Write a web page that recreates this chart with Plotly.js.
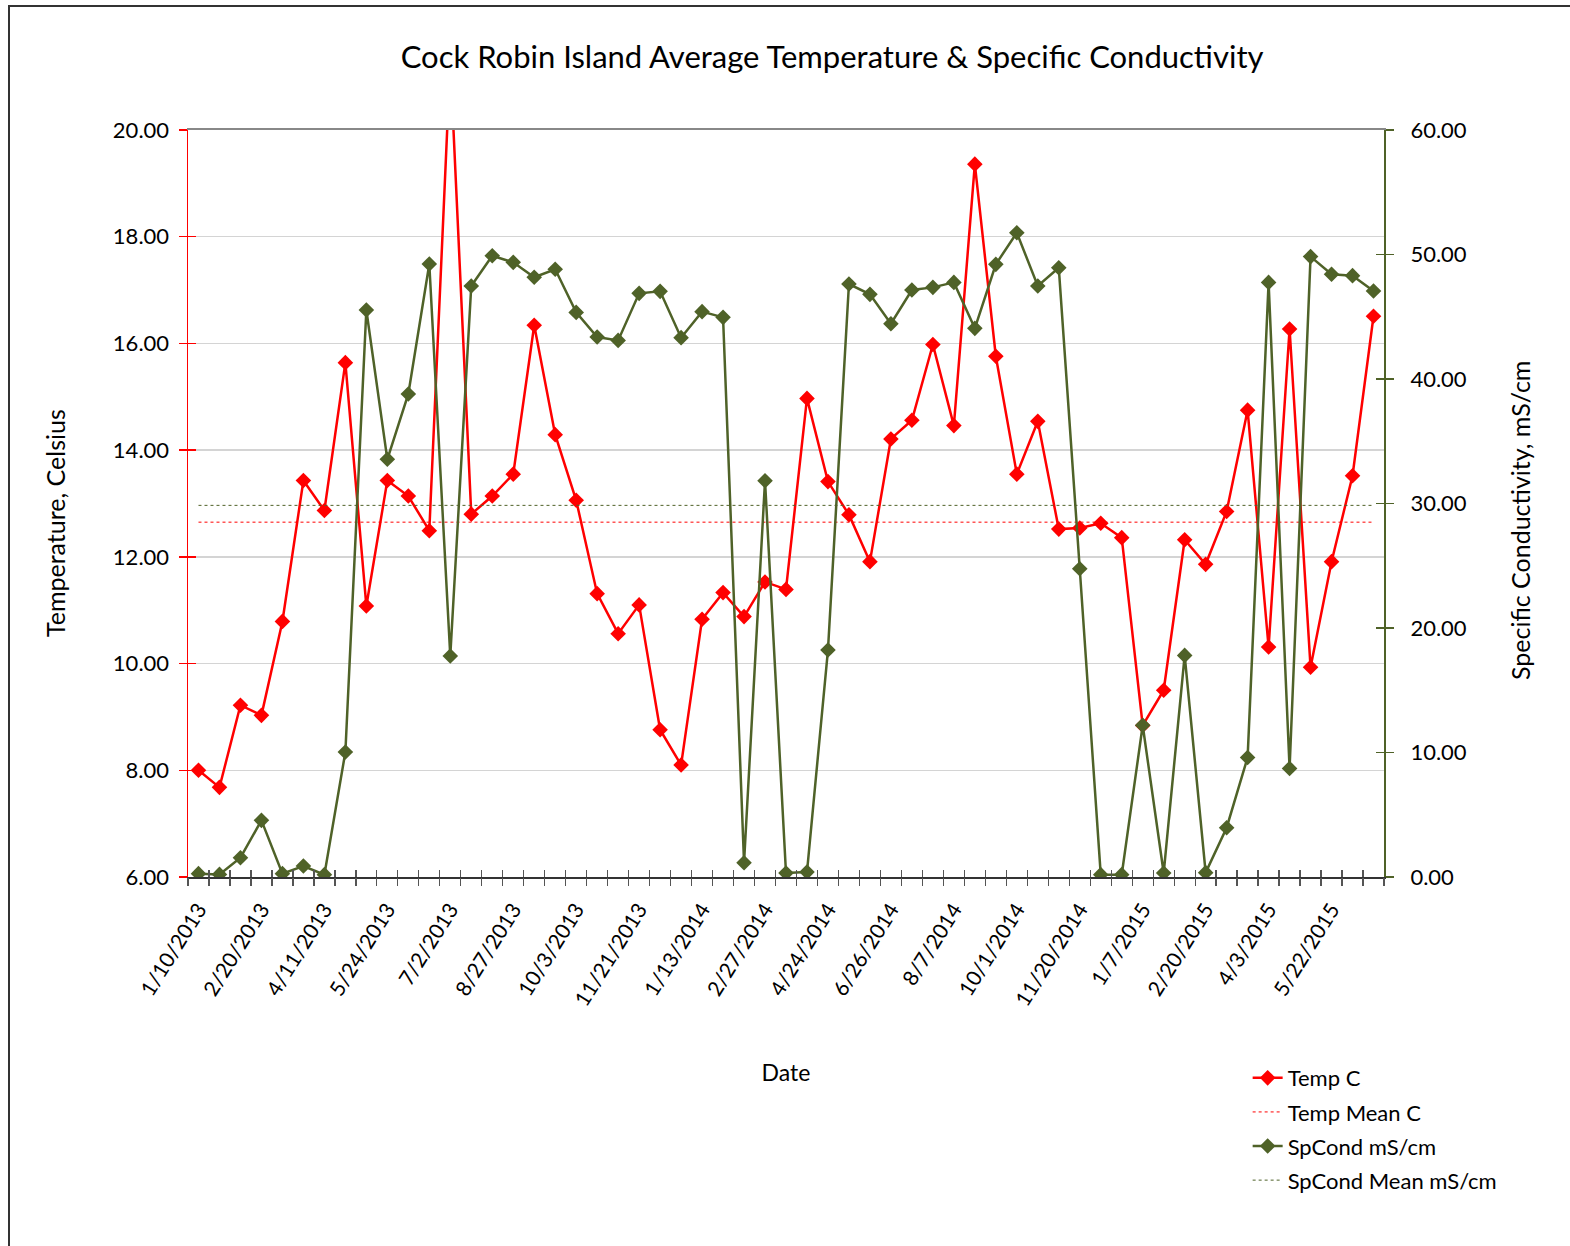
<!DOCTYPE html>
<html>
<head>
<meta charset="utf-8">
<script src="https://cdn.plot.ly/plotly-3.0.1.min.js"></script>
<style>
  html, body { margin: 0; padding: 0; background: #fff; }
  #chart { position: absolute; left: 0; top: 0; width: 1570px; height: 1246px; }
  #frame { position: absolute; left: 8px; top: 5px; width: 1570px; height: 1250px;
           border-left: 2px solid #333; border-top: 2px solid #333; pointer-events: none; }
</style>
</head>
<body>
<div id="chart"></div>
<div id="frame"></div>
<script>
// ---- data ----
const tickLabels = ["1/10/2013", "2/20/2013", "4/11/2013", "5/24/2013", "7/2/2013", "8/27/2013",
  "10/3/2013", "11/21/2013", "1/13/2014", "2/27/2014", "4/24/2014", "6/26/2014", "8/7/2014",
  "10/1/2014", "11/20/2014", "1/7/2015", "2/20/2015", "4/3/2015", "5/22/2015"];
const labelEvery = 3; // one date label every 3 sampling points

const tempC = [8.00, 7.68, 9.22, 9.03, 10.79, 13.43, 12.87, 15.64, 11.08, 13.43,
  13.14, 12.49, 21.30, 12.80, 13.14, 13.55, 16.34, 14.29, 13.06, 11.31,
  10.56, 11.10, 8.76, 8.10, 10.83, 11.33, 10.88, 11.53, 11.39, 14.97,
  13.41, 12.79, 11.91, 14.21, 14.56, 15.98, 14.46, 19.36, 15.76, 13.55,
  14.54, 12.52, 12.54, 12.63, 12.36, 8.84, 9.50, 12.32, 11.86, 12.85,
  14.75, 10.31, 16.27, 9.93, 11.91, 13.52, 16.51];

const spCond = [0.27, 0.21, 1.55, 4.55, 0.27, 0.88, 0.19, 10.04, 45.54, 33.55,
  38.80, 49.24, 17.75, 47.47, 49.90, 49.37, 48.17, 48.81, 45.35, 43.37,
  43.10, 46.88, 47.04, 43.32, 45.41, 44.95, 1.15, 31.83, 0.32, 0.40,
  18.23, 47.63, 46.80, 44.44, 47.15, 47.36, 47.76, 44.07, 49.21, 51.75,
  47.47, 48.94, 24.76, 0.19, 0.19, 12.19, 0.32, 17.80, 0.35, 3.96,
  9.60, 47.76, 8.72, 49.83, 48.41, 48.30, 47.07];

const tempMean = 12.65;
const spCondMean = 29.85;

// ---- build ----
const idx = tempC.map((_, i) => i);
const tickVals = tickLabels.map((_, i) => i * labelEvery);
const meanX = [idx[0], idx[idx.length - 1]];
const xRange = [-0.5, tempC.length - 0.5];

const RED = '#ff0000';
const OLIVE = '#4f6228';
const FONT = 'Lato, "Open Sans", sans-serif';

const helper = (xa, ya, yv) => ({ x: meanX, y: [yv, yv], xaxis: xa, yaxis: ya, type: 'scatter',
  mode: 'lines', line: { width: 0, color: 'rgba(0,0,0,0)' }, opacity: 0, showlegend: false, hoverinfo: 'skip' });

const traces = [
  { x: idx, y: tempC, name: 'Temp C', type: 'scatter', mode: 'lines+markers',
    line: { color: RED, width: 2.5 }, marker: { symbol: 'diamond', size: 12, color: RED },
    xaxis: 'x', yaxis: 'y', legendgroup: 'a' },
  { x: meanX, y: [tempMean, tempMean], name: 'Temp Mean C', type: 'scatter', mode: 'lines',
    line: { color: RED, width: 1, dash: 'dot' }, xaxis: 'x', yaxis: 'y', legendgroup: 'b' },
  { x: idx, y: spCond, name: 'SpCond mS/cm', type: 'scatter', mode: 'lines+markers',
    line: { color: OLIVE, width: 2.5 }, marker: { symbol: 'diamond', size: 12, color: OLIVE },
    xaxis: 'x', yaxis: 'y2', legendgroup: 'c' },
  { x: meanX, y: [spCondMean, spCondMean], name: 'SpCond Mean mS/cm', type: 'scatter', mode: 'lines',
    line: { color: OLIVE, width: 1, dash: 'dot' }, xaxis: 'x', yaxis: 'y2', legendgroup: 'd' },
  // invisible helpers so that the decorative overlay axes (crossing ticks, top border) get drawn
  helper('x2', 'y3', tempMean),
  helper('x3', 'y4', spCondMean),
  helper('x4', 'y', tempMean)
];

const crossTicksX = { tickmode: 'linear', tick0: -0.5, dtick: 1, ticklen: 8, tickwidth: 1.3,
  tickcolor: '#555', showticklabels: false, showgrid: false, zeroline: false, showline: false,
  range: xRange, overlaying: 'x', side: 'bottom', fixedrange: true };

const layout = {
  width: 1570, height: 1246,
  margin: { l: 188, r: 186, t: 130, b: 369, autoexpand: false },
  paper_bgcolor: '#fff', plot_bgcolor: '#fff',
  font: { family: FONT, color: '#000', size: 21 },
  title: { text: 'Cock Robin Island Average Temperature &amp; Specific Conductivity',
    font: { size: 31, family: FONT, color: '#000' },
    x: 0.53, xref: 'container', xanchor: 'center', y: 1 - 57 / 1246, yref: 'container', yanchor: 'middle' },
  showlegend: true,
  legend: { x: 0.886, xanchor: 'left', y: -0.241, yanchor: 'top', orientation: 'v',
    traceorder: 'grouped', tracegroupgap: 2.5, font: { size: 22, family: FONT }, bgcolor: 'rgba(0,0,0,0)' },
  annotations: [
    { text: 'Temperature, Celsius', xref: 'paper', yref: 'paper', x: (55 - 188) / 1196, y: (877 - 523) / 747,
      xanchor: 'center', yanchor: 'middle', textangle: -90, showarrow: false, font: { size: 25, family: FONT } },
    { text: 'Specific Conductivity, mS/cm', xref: 'paper', yref: 'paper', x: (1520 - 188) / 1196, y: (877 - 521) / 747,
      xanchor: 'center', yanchor: 'middle', textangle: -90, showarrow: false, font: { size: 25, family: FONT } }
  ],
  xaxis: {
    range: xRange, tickmode: 'array', tickvals: tickVals, ticktext: tickLabels, tickangle: -58,
    ticks: '', showgrid: false, zeroline: false, showline: true, linecolor: '#333', linewidth: 2,
    tickfont: { size: 21 }, ticklabelstandoff: 10, automargin: false,
    title: { text: 'Date', font: { size: 23 }, standoff: 56 }
  },
  xaxis2: Object.assign({}, crossTicksX, { ticks: 'outside', anchor: 'y3' }),
  xaxis3: Object.assign({}, crossTicksX, { ticks: 'inside', ticklen: 7, anchor: 'y4' }),
  xaxis4: { range: xRange, overlaying: 'x', anchor: 'y', side: 'top', showline: true,
    linecolor: '#888', linewidth: 2, ticks: '', showticklabels: false, showgrid: false, zeroline: false },
  yaxis: {
    range: [6, 20], dtick: 2, tick0: 6, tickformat: '.2f', ticks: 'outside', ticklen: 8,
    tickcolor: RED, tickwidth: 1.3, showline: true, linecolor: RED, linewidth: 1.5,
    gridcolor: '#d4d4d4', gridwidth: 1.3, zeroline: false, automargin: false,
    tickfont: { size: 22 }, ticklabelstandoff: 5
  },
  yaxis2: {
    range: [0, 60], dtick: 10, tick0: 0, tickformat: '.2f', overlaying: 'y', side: 'right', anchor: 'x',
    ticks: 'outside', ticklen: 8, tickcolor: OLIVE, tickwidth: 1.3, showline: true,
    linecolor: OLIVE, linewidth: 2, showgrid: false, zeroline: false, automargin: false,
    tickfont: { size: 22 }, ticklabelstandoff: 12
  },
  yaxis3: { range: [6, 20], dtick: 2, tick0: 6, overlaying: 'y', side: 'left', anchor: 'x2',
    ticks: 'inside', ticklen: 8, tickcolor: RED, tickwidth: 1.3, showticklabels: false,
    showgrid: false, zeroline: false, showline: false },
  yaxis4: { range: [0, 60], dtick: 10, tick0: 0, overlaying: 'y', side: 'right', anchor: 'x3',
    ticks: 'inside', ticklen: 8, tickcolor: OLIVE, tickwidth: 1.3, showticklabels: false,
    showgrid: false, zeroline: false, showline: false }
};

Plotly.newPlot('chart', traces, layout, { displayModeBar: false, staticPlot: true });
</script>
</body>
</html>
